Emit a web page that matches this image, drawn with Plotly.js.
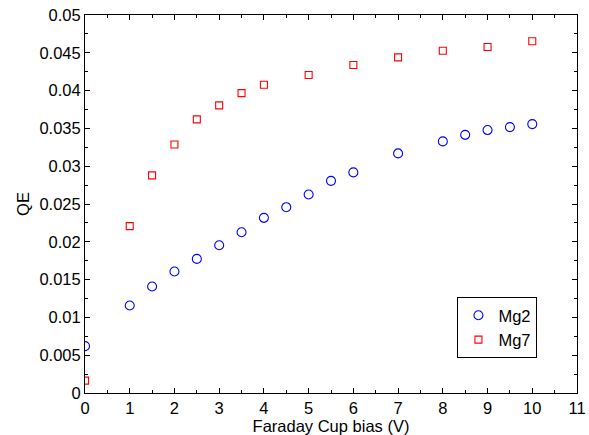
<!DOCTYPE html>
<html>
<head>
<meta charset="utf-8">
<script src="https://cdn.plot.ly/plotly-3.0.1.min.js"></script>
<style>html,body{margin:0;padding:0;background:#fff;}#chart{width:589px;height:435px;}</style>
</head>
<body>
<div id="chart"></div>
<script>
const biasMg2 = [0, 1, 1.5, 2, 2.5, 3, 3.5, 4, 4.5, 5, 5.5, 6, 7, 8, 8.5, 9, 9.5, 10];
const qeMg2 = [0.0062, 0.01157, 0.01409, 0.01607, 0.01774, 0.01955, 0.02127, 0.02317, 0.02458, 0.02626, 0.02806, 0.02918, 0.03169, 0.03328, 0.03415, 0.03478, 0.03517, 0.03557];
const biasMg7 = [0, 1, 1.5, 2, 2.5, 3, 3.5, 4, 5, 6, 7, 8, 9, 10];
const qeMg7 = [0.00164, 0.02207, 0.02878, 0.03288, 0.03619, 0.03805, 0.03967, 0.04077, 0.04206, 0.04338, 0.0444, 0.04527, 0.04576, 0.04652];
const xTicks = [0,1,2,3,4,5,6,7,8,9,10,11];
const yTickVals = [0,0.005,0.01,0.015,0.02,0.025,0.03,0.035,0.04,0.045,0.05];
const yTickText = ['0','0.005','0.01','0.015','0.02','0.025','0.03','0.035','0.04','0.045','0.05'];

const font = {family: 'Liberation Sans, Arial, sans-serif', size: 16.5, color: '#000'};
const traces = [
  {x: biasMg2, y: qeMg2, name: 'Mg2', type: 'scatter', mode: 'markers',
   marker: {symbol: 'circle-open', size: 9, color: '#0000ff', line: {width: 1.1, color: '#0000ff'}}},
  {x: biasMg7, y: qeMg7, name: 'Mg7', type: 'scatter', mode: 'markers',
   marker: {symbol: 'square-open', size: 7, color: '#ff0000', line: {width: 1.1, color: '#ff0000'}}}
];
const axisCommon = {
  showline: true, linecolor: '#000', linewidth: 1, mirror: 'allticks',
  ticks: 'inside', ticklen: 5, tickcolor: '#000', tickwidth: 1,
  showgrid: false, zeroline: false, tickfont: font
};
const layout = {
  width: 589, height: 435,
  margin: {l: 85, r: 12, t: 15, b: 42},
  paper_bgcolor: '#fff', plot_bgcolor: '#fff',
  font: font,
  showlegend: true,
  legend: {x: 0.757, y: 0.254, xanchor: 'left', yanchor: 'top',
    bgcolor: '#fff', bordercolor: '#000', borderwidth: 1, font: font,
    itemwidth: 30, tracegroupgap: 0},
  xaxis: Object.assign({}, axisCommon, {
    range: [0, 11], tickvals: xTicks,
    minor: {ticks: 'inside', dtick: 0.5, ticklen: 3, tickcolor: '#000'},
    title: {text: 'Faraday Cup bias (V)', font: font, standoff: 2}
  }),
  yaxis: Object.assign({}, axisCommon, {
    range: [0, 0.05], tickvals: yTickVals, ticktext: yTickText,
    minor: {ticks: 'inside', dtick: 0.0025, ticklen: 3, tickcolor: '#000'},
    title: {text: 'QE', font: font, standoff: 5}
  })
};
Plotly.newPlot('chart', traces, layout, {displayModeBar: false, staticPlot: true});
</script>
</body>
</html>
